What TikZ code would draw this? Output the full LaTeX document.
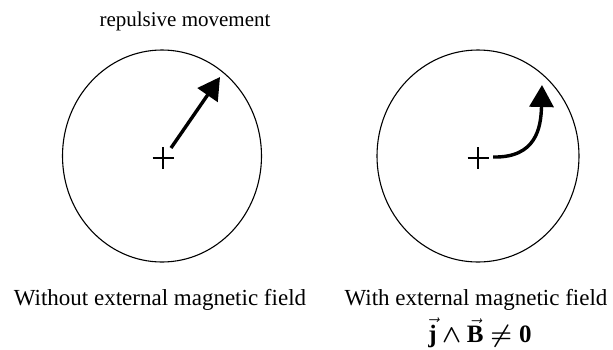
\documentclass[tikz,border=0pt]{standalone}
\usepackage{amsmath}
\usepackage{fontspec}
\setmainfont{Liberation Serif}
\usetikzlibrary{arrows.meta,positioning,shapes.geometric,calc}
\newcommand{\vj}{\vec{\mathbf{j}}}
\newcommand{\vB}{\vec{\mathbf{B}}}

\begin{document}
\begin{tikzpicture}[x=1pt,y=-1pt,>=Latex,
 orbit/.style={draw,ellipse,line width=1.1pt,inner sep=0pt,minimum width=199pt,minimum height=212pt},
 cross/.style={line width=1.1pt},
 push/.style={line width=3.4pt,-{Triangle[length=22pt,width=24pt]}},
 lab/.style={font=\fontsize{23}{27}\selectfont,inner sep=0pt,anchor=base}]
\useasboundingbox (0,0) rectangle (613,349);
% the two orbits
\node[orbit] (lorb) at (162,156) {};
\node[orbit,minimum width=202pt] (rorb) at (478,156) {};
% centres
\coordinate (lc) at (163,158); \coordinate (rc) at (478,158);
\draw[cross] ($(lc)+(-10.5,0)$) -- ($(lc)+(10.5,0)$) ($(lc)+(0,-11)$) -- ($(lc)+(0,11)$);
\draw[cross] ($(rc)+(-10.5,0)$) -- ($(rc)+(10.5,0)$) ($(rc)+(0,-11)$) -- ($(rc)+(0,11)$);
% movements
\coordinate (ls) at (171,148); \coordinate (lt) at (220,77);
\coordinate (rs) at (493,157); \coordinate (rt) at (542,85);
\draw[push] (ls) -- (lt);
\draw[push] (rs) .. controls (536,158) and (541,128) .. (rt);
% labels
\node[lab,font=\fontsize{21}{25}\selectfont] (top) at (185,26) {repulsive movement};
\node[lab] (lnone) at (160,305) {Without external magnetic field};
\node[lab] (lwith) at (476,305) {With external magnetic field};
\node[lab,font=\fontsize{25}{29}\selectfont] (force) at (480,342) {$\vj\boldsymbol{\wedge}\vB\boldsymbol{\neq}\mathbf{0}$};
\end{tikzpicture}
\end{document}
